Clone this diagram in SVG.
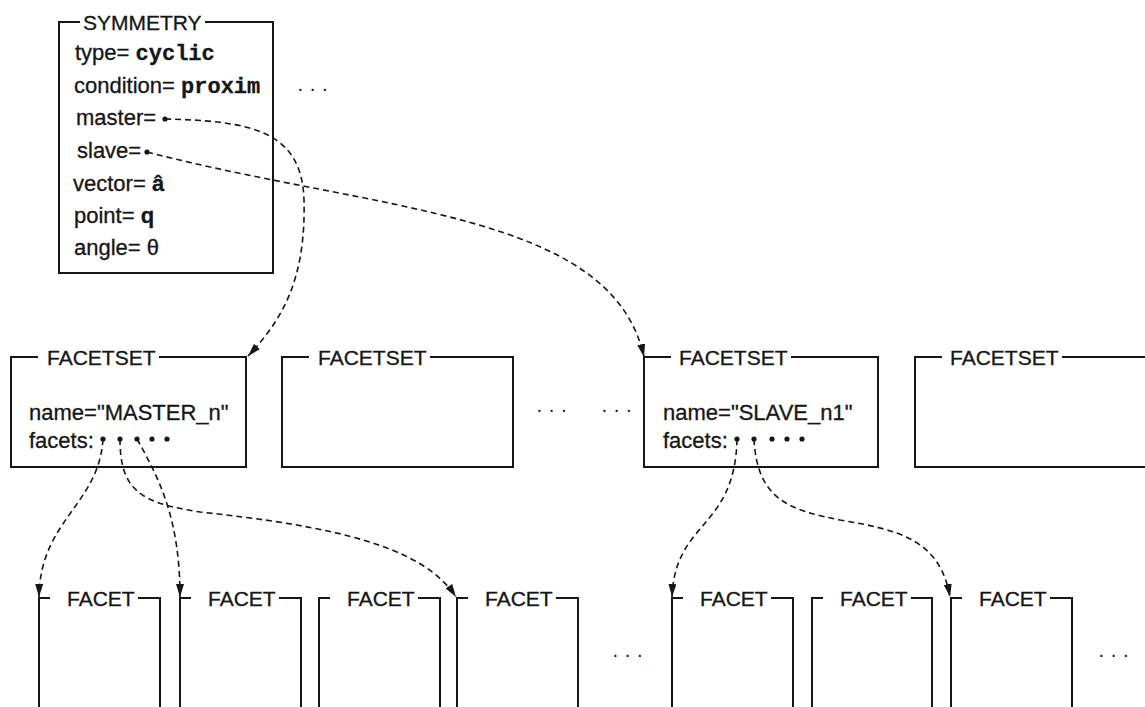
<svg xmlns="http://www.w3.org/2000/svg" width="1145" height="707" viewBox="0 0 1145 707">
  <style>
    .frame{fill:none;stroke:#161616;stroke-width:2}
    .ttl{font-family:"Liberation Sans",Arial,Helvetica,sans-serif;font-size:21px;fill:#161616;stroke:#161616;stroke-width:0.3}
    .lbl{font-family:"Liberation Sans",Arial,Helvetica,sans-serif;font-size:22px;fill:#161616;stroke:#161616;stroke-width:0.3}
    .mono{font-family:"Liberation Mono","Courier New",monospace;font-weight:bold}
    .bold{font-weight:bold}
    .dots{font-family:"Liberation Sans",Arial,sans-serif;font-size:20px;fill:#161616}
    .conn{fill:none;stroke:#161616;stroke-width:1.6;stroke-dasharray:6 4}
    .pin{fill:#161616}
  </style>
  <defs>
    <marker id="arrow" viewBox="0 0 13 8" refX="13" refY="4" markerWidth="13" markerHeight="8" markerUnits="userSpaceOnUse" orient="auto">
      <path d="M0,0 L13,4 L0,8 z" fill="#161616"/>
    </marker>
  </defs>
  <rect width="1145" height="707" fill="#ffffff"/>

  <!-- symmetry record -->
  <g id="symmetry">
    <path class="frame" d="M80,22 H59 V273 H273 V22 H205"/>
    <text class="ttl" x="83" y="29.5">SYMMETRY</text>
    <text class="lbl" x="75" y="60">type= <tspan class="mono">cyclic</tspan></text>
    <text class="lbl" x="74" y="93">condition= <tspan class="mono">proxim</tspan></text>
    <text class="lbl" x="76" y="125">master=</text>
    <circle class="pin" cx="165" cy="119" r="2.6"/>
    <text class="lbl" x="77" y="158">slave=</text>
    <circle class="pin" cx="147" cy="152" r="2.6"/>
    <text class="lbl" x="73" y="191">vector= <tspan class="bold">â</tspan></text>
    <text class="lbl" x="74" y="223">point= <tspan class="bold">q</tspan></text>
    <text class="lbl" x="74" y="255">angle= θ</text>
  </g>
  <text class="dots" x="297" y="95">· · ·</text>

  <!-- facet sets -->
  <g id="facetset-master">
    <path class="frame" d="M38,357 H11 V467 H246 V357 H159"/>
    <text class="ttl" x="47" y="364.5">FACETSET</text>
    <text class="lbl" x="29" y="420">name="MASTER_n"</text>
    <text class="lbl" x="29" y="448">facets:</text>
    <circle class="pin" cx="103" cy="439" r="2.6"/>
    <circle class="pin" cx="120" cy="439" r="2.6"/>
    <circle class="pin" cx="137" cy="439" r="2.6"/>
    <circle class="pin" cx="152" cy="439" r="2.6"/>
    <circle class="pin" cx="167" cy="439" r="2.6"/>
  </g>
  <g id="facetset-2">
    <path class="frame" d="M309,357 H282 V467 H513 V357 H430"/>
    <text class="ttl" x="318" y="364.5">FACETSET</text>
  </g>
  <text class="dots" x="536" y="416">· · ·</text>
  <text class="dots" x="601" y="416">· · ·</text>
  <g id="facetset-slave">
    <path class="frame" d="M671,357 H644 V467 H878 V357 H791"/>
    <text class="ttl" x="679" y="364.5">FACETSET</text>
    <text class="lbl" x="663" y="420">name="SLAVE_n1"</text>
    <text class="lbl" x="663" y="448">facets:</text>
    <circle class="pin" cx="737" cy="439" r="2.6"/>
    <circle class="pin" cx="754" cy="439" r="2.6"/>
    <circle class="pin" cx="772" cy="439" r="2.6"/>
    <circle class="pin" cx="787" cy="439" r="2.6"/>
    <circle class="pin" cx="802" cy="439" r="2.6"/>
  </g>
  <g id="facetset-4">
    <path class="frame" d="M942,357 H915 V467 H1150 M1062,357 H1150"/>
    <text class="ttl" x="950" y="364.5">FACETSET</text>
  </g>

  <!-- facets: open-bottom frames, title set into the top edge -->
  <g id="facet-1">
    <path class="frame" d="M50,598 H39 V710 M138,598 H160 V710"/>
    <text class="ttl" x="67" y="605.5">FACET</text>
  </g>
  <g id="facet-2">
    <path class="frame" d="M191,598 H180 V710 M279,598 H301 V710"/>
    <text class="ttl" x="208" y="605.5">FACET</text>
  </g>
  <g id="facet-3">
    <path class="frame" d="M330,598 H319 V710 M418,598 H440 V710"/>
    <text class="ttl" x="347" y="605.5">FACET</text>
  </g>
  <g id="facet-4">
    <path class="frame" d="M468,598 H457 V710 M556,598 H578 V710"/>
    <text class="ttl" x="485" y="605.5">FACET</text>
  </g>
  <text class="dots" x="612" y="661">· · ·</text>
  <g id="facet-5">
    <path class="frame" d="M683,598 H672 V710 M771,598 H793 V710"/>
    <text class="ttl" x="700" y="605.5">FACET</text>
  </g>
  <g id="facet-6">
    <path class="frame" d="M823,598 H812 V710 M911,598 H932 V710"/>
    <text class="ttl" x="840" y="605.5">FACET</text>
  </g>
  <g id="facet-7">
    <path class="frame" d="M962,598 H951 V710 M1050,598 H1072 V710"/>
    <text class="ttl" x="979" y="605.5">FACET</text>
  </g>
  <text class="dots" x="1098" y="661">· · ·</text>

  <!-- references -->
  <g id="connectors">
    <path class="conn" marker-end="url(#arrow)" d="M165,119 C250,121 302,130 304,200 C306,280 282,320 248,356"/>
    <path class="conn" marker-end="url(#arrow)" d="M147,152 C380,212 612,212 644,357"/>
    <path class="conn" marker-end="url(#arrow)" d="M103,439 C99,505 40,520 39,597"/>
    <path class="conn" marker-end="url(#arrow)" d="M120,439 C120,490 140,503 200,512 C330,526 422,545 456,597"/>
    <path class="conn" marker-end="url(#arrow)" d="M137,439 C160,480 180,520 180,597"/>
    <path class="conn" marker-end="url(#arrow)" d="M737,439 C735,530 675,520 672,597"/>
    <path class="conn" marker-end="url(#arrow)" d="M754,439 C757,500 790,510 840,520 C900,530 940,540 950,597"/>
  </g>
</svg>
